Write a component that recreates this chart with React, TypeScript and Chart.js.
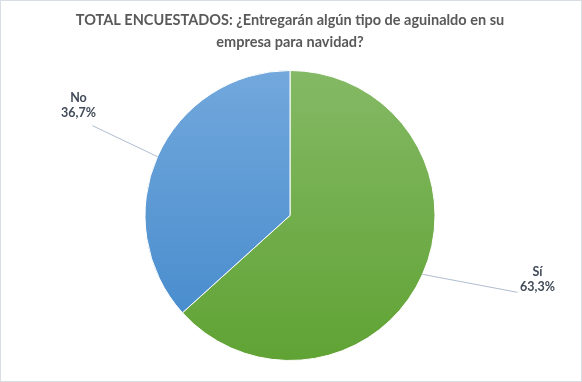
import React, { useEffect, useRef } from "react";
import { Chart, registerables } from "chart.js";

Chart.register(...registerables);

const titleLines = [
  "TOTAL ENCUESTADOS: ¿Entregarán algún tipo de aguinaldo en su",
  "empresa para navidad?",
];
const categories = ["Sí", "No"];
const values = [63.3, 36.7];
const valueLabels = ["63,3%", "36,7%"];

const gradStops = [
  ["#84B965", "#60A334"],
  ["#72A8DC", "#4288CB"],
];
// leader-line end offset from slice edge, and label text offset from line end
const leaderOffsets = [
  { dx: 95, dy: 18 },
  { dx: -65, dy: -31 },
];
const textOffsets = [
  { dx: 20, dy: -20 },
  { dx: -14, dy: -28 },
];

const labelPlugin = {
  id: "pieLabels",
  beforeDraw(chart: any) {
    const ctx = chart.ctx;
    ctx.save();
    ctx.fillStyle = "#ffffff";
    ctx.fillRect(0, 0, chart.width, chart.height);
    ctx.strokeStyle = "#D9DDE4";
    ctx.lineWidth = 1;
    ctx.strokeRect(0.5, 0.5, chart.width - 1, chart.height - 1);
    ctx.restore();
  },
  afterDatasetsDraw(chart: any) {
    const ctx = chart.ctx;
    const meta = chart.getDatasetMeta(0);
    meta.data.forEach((arc: any, i: number) => {
      const { x, y, startAngle, endAngle, outerRadius } = arc.getProps(
        ["x", "y", "startAngle", "endAngle", "outerRadius"],
        true
      );
      const mid = (startAngle + endAngle) / 2;
      const ex = x + Math.cos(mid) * outerRadius;
      const ey = y + Math.sin(mid) * outerRadius;
      const lx = ex + leaderOffsets[i].dx;
      const ly = ey + leaderOffsets[i].dy;
      ctx.save();
      ctx.strokeStyle = "#B0BDD0";
      ctx.lineWidth = 1;
      ctx.beginPath();
      ctx.moveTo(ex, ey);
      ctx.lineTo(lx, ly);
      ctx.stroke();
      ctx.fillStyle = "#404A58";
      ctx.font = "bold 12.5px Lato, 'Open Sans', sans-serif";
      ctx.textAlign = "center";
      ctx.textBaseline = "middle";
      const tx = lx + textOffsets[i].dx;
      const ty = ly + textOffsets[i].dy;
      ctx.fillText(categories[i], tx, ty);
      ctx.fillText(valueLabels[i], tx, ty + 15);
      ctx.restore();
    });
  },
};

export default function App() {
  const ref = useRef<HTMLCanvasElement>(null);
  useEffect(() => {
    if (!ref.current) return;
    const chart = new Chart(ref.current, {
      type: "pie",
      data: {
        labels: categories,
        datasets: [
          {
            data: values,
            backgroundColor: (c: any) => {
              const area = c.chart.chartArea;
              const stops = gradStops[c.dataIndex % gradStops.length];
              if (!area) return stops[0];
              const g = c.chart.ctx.createLinearGradient(0, area.top, 0, area.bottom);
              g.addColorStop(0, stops[0]);
              g.addColorStop(1, stops[1]);
              return g;
            },
            borderColor: "#ffffff",
            borderWidth: 1,
          },
        ],
      },
      options: {
        animation: false,
        responsive: false,
        maintainAspectRatio: false,
        layout: { padding: { top: 0, bottom: 21, left: 0, right: 2 } },
        plugins: {
          legend: { display: false },
          tooltip: { enabled: false },
          title: {
            display: true,
            text: titleLines,
            color: "#595959",
            font: { family: "Lato, 'Open Sans', sans-serif", size: 14.5, weight: "bold", lineHeight: 1.517 },
            padding: { top: 9, bottom: 17 },
          },
        },
      },
      plugins: [labelPlugin],
    });
    return () => chart.destroy();
  }, []);
  return (
    <div style={{ position: "fixed", left: 0, top: 0, width: 582, height: 382 }}>
      <canvas ref={ref} width={582} height={382} style={{ width: 582, height: 382 }} />
    </div>
  );
}
